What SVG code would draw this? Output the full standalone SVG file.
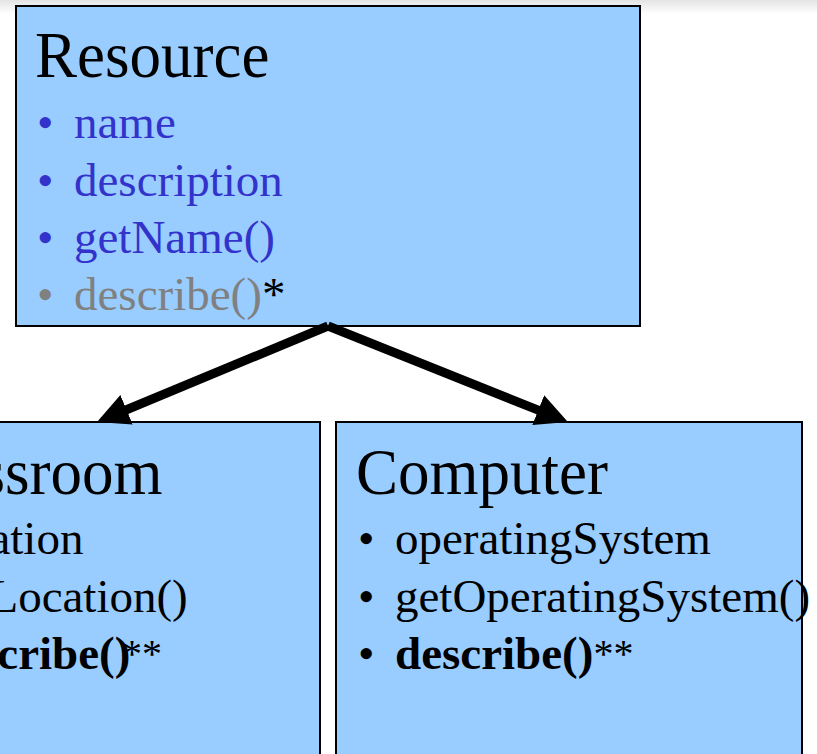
<svg xmlns="http://www.w3.org/2000/svg" width="817" height="754" viewBox="0 0 817 754">
  <defs>
    <linearGradient id="topShade" x1="0" y1="0" x2="0" y2="1">
      <stop offset="0" stop-color="#e4e4e4"/>
      <stop offset="1" stop-color="#ffffff"/>
    </linearGradient>
    <marker id="head" markerUnits="userSpaceOnUse" viewBox="0 0 32 32" refX="2" refY="16" markerWidth="32" markerHeight="32" orient="auto">
      <path d="M0,0 L32,16 L0,32 z" fill="#000"/>
    </marker>
    <style>
      .box { fill: #99ccff; stroke: #000; stroke-width: 2; }
      .title { font-family: "Liberation Serif", "Times New Roman", serif; font-size: 63px; fill: #000; }
      .item { font-family: "Liberation Serif", "Times New Roman", serif; font-size: 47px; fill: #000; }
      .blue { fill: #3333cc; }
      .grey { fill: #808080; }
      .bold { font-weight: bold; }
      .star { font-size: 40px; }
      .link { fill: none; stroke: #000; stroke-width: 9; marker-end: url(#head); }
    </style>
  </defs>

  <rect x="0" y="0" width="817" height="754" fill="#ffffff"/>
  <rect x="0" y="0" width="817" height="14" fill="url(#topShade)"/>

  <!-- base class -->
  <g id="resource">
    <rect class="box" x="16" y="6" width="624" height="320"/>
    <text class="title" x="35" y="77" transform="translate(0,77) scale(1,1.05) translate(0,-77)">Resource</text>
    <text class="item blue" x="37" y="138">•</text>
    <text class="item blue" x="74" y="138">name</text>
    <text class="item blue" x="37" y="196">•</text>
    <text class="item blue" x="74" y="196">description</text>
    <text class="item blue" x="37" y="253">•</text>
    <text class="item blue" x="74" y="253">getName()</text>
    <text class="item grey" x="37" y="310">•</text>
    <text class="item" x="74" y="310"><tspan class="grey">describe()</tspan>*</text>
  </g>

  <!-- subclass partly off the left edge -->
  <g id="classroom">
    <rect class="box" x="-126" y="422" width="446" height="360"/>
    <text class="title" x="-107" y="494" transform="translate(0,494) scale(1,1.05) translate(0,-494)">Classroom</text>
    <text class="item" x="-105" y="554">•</text>
    <text class="item" x="-68" y="554">location</text>
    <text class="item" x="-105" y="612">•</text>
    <text class="item" x="-68" y="612">getLocation()</text>
    <text class="item" x="-105" y="669">•</text>
    <text class="item bold" x="-68" y="669">describe()</text>
    <text class="item star" x="122" y="667">**</text>
  </g>

  <g id="computer">
    <rect class="box" x="336" y="422" width="466" height="360"/>
    <text class="title" x="356" y="494" transform="translate(0,494) scale(1,1.05) translate(0,-494)">Computer</text>
    <text class="item" x="358" y="554">•</text>
    <text class="item" x="395" y="554">operatingSystem</text>
    <text class="item" x="358" y="612">•</text>
    <text class="item" x="395" y="612">getOperatingSystem()</text>
    <text class="item" x="358" y="669">•</text>
    <text class="item" x="395" y="669"><tspan class="bold">describe()</tspan><tspan class="star" dy="-2">**</tspan></text>
  </g>

  <!-- inheritance links -->
  <g id="connectors">
    <path class="link" d="M328,326 L124.7,410.5"/>
    <path class="link" d="M328,326 L540.1,410.9"/>
  </g>
</svg>
